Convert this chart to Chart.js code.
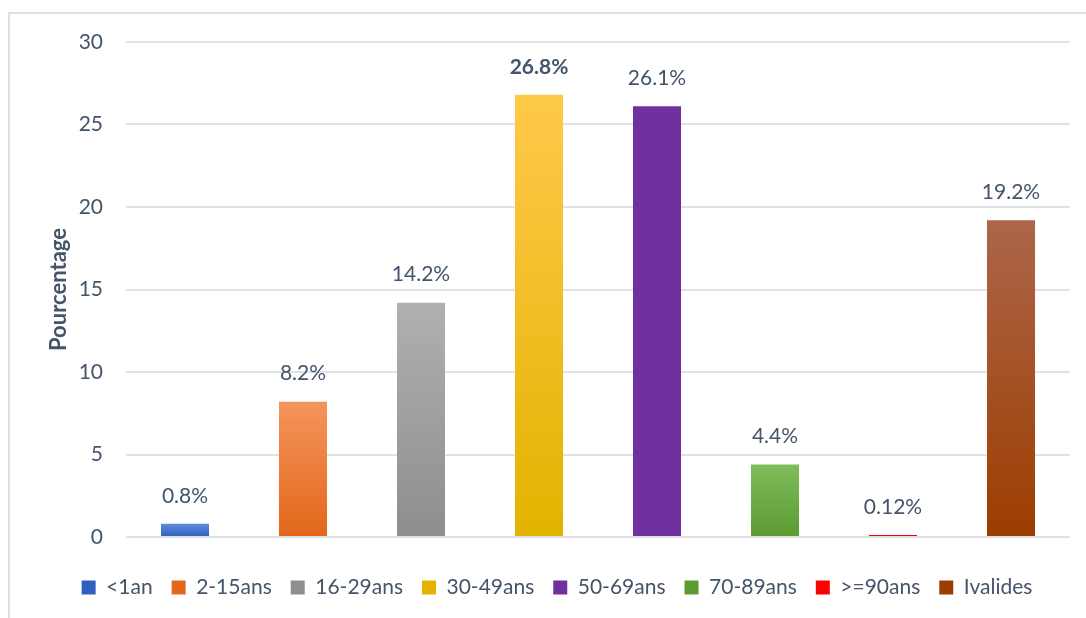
<!DOCTYPE html>
<html>
<head>
<meta charset="utf-8">
<script src="https://cdn.jsdelivr.net/npm/chart.js@4/dist/chart.umd.min.js"></script>
<style>
  html, body { margin: 0; padding: 0; background: #fff; overflow: hidden; }
  #frame {
    position: absolute; left: 8px; top: 12px; width: 1100px; height: 620px;
    border-left: 2px solid #dde1e6; border-top: 2px solid #dde1e6;
  }
  #wrap { position: absolute; left: 0; top: 0; width: 1086px; height: 618px; }
</style>
</head>
<body>
<div id="frame"></div>
<div id="wrap"><canvas id="ageChart"></canvas></div>
<script>
// age groups and their share (%)
const categories = ['<1an', '2-15ans', '16-29ans', '30-49ans', '50-69ans', '70-89ans', '>=90ans', 'Ivalides'];
const values = [0.8, 8.2, 14.2, 26.8, 26.1, 4.4, 0.12, 19.2];
const yTicks = [0, 5, 10, 15, 20, 25, 30];
const boldLabel = '30-49ans';

// gradient colours per bar: [top, bottom, legend]
const barColors = [
    ['#5f8ddb', '#2f5fbf', '#4472c4'],
    ['#f5945c', '#e2671a', '#ed7d31'],
    ['#b0b0b0', '#8e8e8e', '#a5a5a5'],
    ['#ffc94a', '#e3b300', '#ffc000'],
    ['#7030a0', '#7030a0', '#7030a0'],
    ['#80bc5c', '#5b9b31', '#70ad47'],
    ['#ff0000', '#ff0000', '#ff0000'],
    ['#ad664a', '#9c3d00', '#a5532a']
];

const textColor = '#44546a';
const fontFamily = 'Lato, "Open Sans", sans-serif';

// vertical gradient over the bar itself (Excel style)
function barFill(i) {
    return function (ctx) {
        const c = barColors[i];
        if (ctx.type !== 'data' || c[0] === c[1]) return c[2];
        const chart = ctx.chart;
        if (!chart.chartArea) return c[2];
        const y = chart.scales.y;
        const top = y.getPixelForValue(ctx.parsed.y);
        const bottom = y.getPixelForValue(0);
        const g = chart.ctx.createLinearGradient(0, top, 0, bottom);
        g.addColorStop(0, c[0]);
        g.addColorStop(1, c[1]);
        return g;
    };
}

const datasets = categories.map((cat, i) => ({
    label: cat,
    data: [{ x: cat, y: values[i] }],
    backgroundColor: barFill(i),
    borderWidth: 0,
    categoryPercentage: 1,
    barPercentage: 0.407
}));

// value labels above bars
const valueLabels = {
    id: 'valueLabels',
    afterDatasetsDraw(chart) {
        const ctx = chart.ctx;
        ctx.save();
        ctx.fillStyle = textColor;
        ctx.textAlign = 'center';
        ctx.textBaseline = 'middle';
        chart.data.datasets.forEach((ds, i) => {
            const meta = chart.getDatasetMeta(i);
            meta.data.forEach((bar, j) => {
                const v = ds.data[j].y;
                ctx.font = (ds.label === boldLabel ? 'bold ' : '') + '21px ' + fontFamily;
                ctx.fillText(String(v) + '%', bar.x, bar.y - 28);
            });
        });
        ctx.restore();
    }
};

new Chart(document.getElementById('ageChart'), {
    type: 'bar',
    data: { labels: categories, datasets: datasets },
    options: {
        responsive: true,
        maintainAspectRatio: false,
        animation: false,
        layout: { padding: { left: 44, right: 16, top: 42, bottom: 10 } },
        scales: {
            x: {
                display: true,
                afterFit: (scale) => { scale.height = 21; },
                ticks: { display: false },
                grid: { display: false },
                border: { display: false }
            },
            y: {
                min: 0,
                max: 30,
                afterBuildTicks: (scale) => { scale.ticks = yTicks.map(v => ({ value: v })); },
                afterFit: (scale) => { scale.width = 82; },
                border: { display: false },
                grid: { color: '#dfe3e8', lineWidth: 2, drawTicks: false },
                ticks: { color: textColor, padding: 23, font: { family: fontFamily, size: 21 } },
                title: {
                    display: true,
                    text: 'Pourcentage',
                    color: textColor,
                    padding: { top: 2, bottom: 0 },
                    font: { family: fontFamily, size: 22, weight: 'bold' }
                }
            }
        },
        datasets: { bar: { grouped: false } },
        plugins: {
            legend: {
                position: 'bottom',
                labels: {
                    color: textColor,
                    boxWidth: 14,
                    boxHeight: 14,
                    padding: 19,
                    font: { family: fontFamily, size: 21 }
                }
            },
            tooltip: { enabled: false }
        }
    },
    plugins: [valueLabels]
});
</script>
</body>
</html>
